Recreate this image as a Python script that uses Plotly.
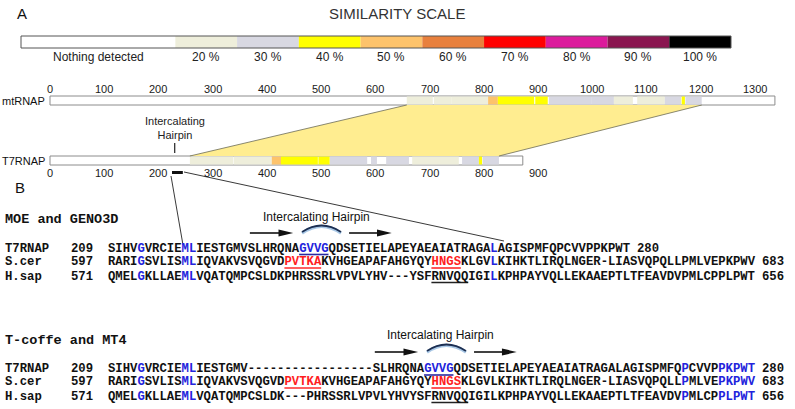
import plotly.graph_objects as go

# ---------------- data ----------------
scale_labels = ["Nothing detected", "20 %", "30 %", "40 %", "50 %", "60 %", "70 %", "80 %", "90 %", "100 %"]
scale_levels = [0, 20, 30, 40, 50, 60, 70, 80, 90, 100]
scale_widths = [2.5, 1, 1, 1, 1, 1, 1, 1, 1, 1]
level_colors = {0: "#ffffff", 20: "#eeeedb", 30: "#d8d8e2", 40: "#ffff00", 50: "#fdc36b",
                60: "#e8803d", 70: "#ff0000", 80: "#dc1b9c", 90: "#8a1650", 100: "#000000"}

mt_length = 1337
t7_length = 872
mt_ticks = [0, 100, 200, 300, 400, 500, 600, 700, 800, 900, 1000, 1100, 1200, 1300]
t7_ticks = [0, 100, 200, 300, 400, 500, 600, 700, 800, 900]

mt_seg_start = [658, 708, 741, 808, 826, 895, 920, 998, 1040, 1083, 1134, 1165, 1172]
mt_seg_end = [706, 741, 808, 826, 893, 918, 998, 1040, 1075, 1134, 1164, 1171, 1202]
mt_seg_level = [20, 20, 20, 50, 40, 40, 30, 30, 20, 20, 30, 40, 30]

t7_seg_start = [258, 339, 409, 426, 495, 516, 592, 620, 668, 760, 791, 798]
t7_seg_end = [338, 409, 426, 494, 516, 585, 603, 662, 754, 791, 797, 828]
t7_seg_level = [20, 20, 50, 40, 40, 30, 30, 30, 20, 30, 40, 30]

band_t7 = [258, 828]
band_mt = [658, 1202]
hairpin_center = 230
hairpin_span = [225, 245]

align_names = ["T7RNAP", "S.cer", "H.sap"]
align_first = [209, 597, 571]
align_last = [280, 683, 656]

moe_rows = ["SIHVGVRCIEMLIESTGMVSLHRQNAGVVGQDSETIELAPEYAEAIATRAGALAGISPMFQPCVVPPKPWT",
            "RARIGSVLISMLIQVAKVSVQGVDPVTKAKVHGEAPAFAHGYQYHNGSKLGVLKIHKTLIRQLNGER-LIASVQPQLLPMLVEPKPWV",
            "QMELGKLLAEMLVQATQMPCSLDKPHRSSRLVPVLYHV---YSFRNVQQIGILKPHPAYVQLLEKAAEPTLTFEAVDVPMLCPPLPWT"]
moe_blue = [[4, 10, 11, 52], [4, 10, 11, 52], [4, 10, 11, 52]]
moe_motifs = [[(26, 29, "blue")], [(24, 28, "red"), (44, 47, "red")], [(44, 48, "black")]]

tcoffee_rows = ["SIHVGVRCIEMLIESTGMV-----------------SLHRQNAGVVGQDSETIELAPEYAEAIATRAGALAGISPMFQPCVVPPKPWT",
                "RARIGSVLISMLIQVAKVSVQGVDPVTKAKVHGEAPAFAHGYQYHNGSKLGVLKIHKTLIRQLNGER-LIASVQPQLLPMLVEPKPWV",
                "QMELGKLLAEMLVQATQMPCSLDK---PHRSSRLVPVLYHVYSFRNVQQIGILKPHPAYVQLLEKAAEPTLTFEAVDVPMLCPPLPWT"]
tcoffee_blue = [[4, 10, 11, 78, 83, 84, 85, 86, 87]] * 3
tcoffee_motifs = [[(43, 46, "blue")], [(24, 28, "red"), (44, 47, "red")], [(44, 48, "black")]]

# ---------------- layout constants ----------------
W, H = 795, 409
PX_PER_RES, X0 = 0.5422, 50
SC_UNIT, SC_X0 = 61.74, 21
COL_W, COL_X0 = 7.35, 108

MT_Y, T7_Y, TRACK_H = 100.5, 160.5, 9
SCALE_Y, SCALE_H = 42, 12

BLUE = "#2323dc"
RED = "#ff1e1e"
MOTIF_LINE = {"blue": "#2a2aa0", "red": "#ff2a2a", "black": "#222222"}
SANS = "Liberation Sans, Arial, sans-serif"
MONO = "Liberation Mono, Courier New, monospace"

fig = go.Figure()

# homology band
t7_top = T7_Y - TRACK_H / 2
mt_bot = MT_Y + TRACK_H / 2
fig.add_trace(go.Scatter(x=[band_t7[0], band_mt[0], band_mt[1], band_t7[1], band_t7[0]],
                         y=[t7_top, mt_bot, mt_bot, t7_top, t7_top], fill="toself",
                         fillcolor="#ffed90", mode="lines", line=dict(width=0), hoverinfo="skip"))
for a, b in [(band_t7[0], band_mt[0]), (band_t7[1], band_mt[1])]:
    fig.add_trace(go.Scatter(x=[a, b], y=[t7_top, mt_bot], mode="lines",
                             line=dict(color="#6b6b55", width=0.8), hoverinfo="skip"))

# tracks
for length, yc in [(mt_length, MT_Y), (t7_length, T7_Y)]:
    fig.add_trace(go.Bar(orientation="h", y=[yc], x=[length], base=[0], width=TRACK_H,
                         marker=dict(color="white", line=dict(color="#8c8c8c", width=1)),
                         hoverinfo="skip"))
for starts, ends, levels, yc in [(mt_seg_start, mt_seg_end, mt_seg_level, MT_Y),
                                 (t7_seg_start, t7_seg_end, t7_seg_level, T7_Y)]:
    fig.add_trace(go.Bar(orientation="h", y=[yc] * len(starts),
                         x=[e - s for s, e in zip(starts, ends)], base=starts,
                         width=TRACK_H - 1,
                         marker=dict(color=[level_colors[l] for l in levels], line=dict(width=0)),
                         hoverinfo="skip"))

# similarity scale
bases = []
acc = 0
for w in scale_widths:
    bases.append(acc)
    acc += w
fig.add_trace(go.Bar(orientation="h", xaxis="x2", y=[SCALE_Y] * len(scale_widths), x=scale_widths,
                     base=bases, width=SCALE_H,
                     marker=dict(color=[level_colors[l] for l in scale_levels], line=dict(width=0)),
                     hoverinfo="skip"))

shapes = []
annotations = []
shapes.append(dict(type="rect", xref="x2", yref="y", x0=0, x1=acc,
                   y0=SCALE_Y - SCALE_H / 2, y1=SCALE_Y + SCALE_H / 2,
                   line=dict(color="#555555", width=1)))
for lab, b, w in zip(scale_labels, bases, scale_widths):
    annotations.append(dict(xref="x2", yref="y", x=b + w / 2, y=57, text=lab, showarrow=False,
                            font=dict(family=SANS, size=12, color="#222")))
annotations.append(dict(xref="paper", yref="y", x=397 / W, y=13, text="SIMILARITY SCALE",
                        showarrow=False, font=dict(family=SANS, size=15, color="#333")))
annotations.append(dict(xref="paper", yref="y", x=15 / W, y=13, text="A", showarrow=False,
                        font=dict(family=SANS, size=15, color="#111")))
annotations.append(dict(xref="paper", yref="y", x=13 / W, y=187, text="B", showarrow=False,
                        font=dict(family=SANS, size=15, color="#111")))

# track ticks
for t in mt_ticks:
    annotations.append(dict(xref="x", yref="y", x=t, y=89, text=str(t), showarrow=False,
                            font=dict(family=SANS, size=11, color="#1a1a1a")))
for t in t7_ticks:
    annotations.append(dict(xref="x", yref="y", x=t, y=173, text=str(t), showarrow=False,
                            font=dict(family=SANS, size=11, color="#1a1a1a")))
annotations.append(dict(xref="paper", yref="y", x=47 / W, y=MT_Y, text="mtRNAP", showarrow=False,
                        xanchor="right", font=dict(family=SANS, size=11, color="#111")))
annotations.append(dict(xref="paper", yref="y", x=47 / W, y=T7_Y, text="T7RNAP", showarrow=False,
                        xanchor="right", font=dict(family=SANS, size=11, color="#111")))

# hairpin marker on T7 track
annotations.append(dict(xref="x", yref="y", x=hairpin_center, y=128, text="Intercalating<br>Hairpin",
                        showarrow=False, font=dict(family=SANS, size=11, color="#222")))
shapes.append(dict(type="line", xref="x", yref="y", x0=hairpin_center, x1=hairpin_center,
                   y0=143, y1=153, line=dict(color="#222", width=1.2)))
shapes.append(dict(type="rect", xref="x", yref="y", x0=hairpin_span[0], x1=hairpin_span[1],
                   y0=171, y1=174, fillcolor="#111", line=dict(width=0)))
# leader lines to the alignment
for (xa, ya, xb, yb) in [(171, 176, 183, 245), (184, 172, 504, 241)]:
    shapes.append(dict(type="line", xref="paper", yref="y", x0=xa / W, y0=ya, x1=xb / W, y1=yb,
                       line=dict(color="#222", width=0.9)))


# ---------------- alignments ----------------
def seq_html(seq, blue_cols, motifs):
    color_of = {c: BLUE for c in blue_cols}
    for s, e, kind in motifs:
        for c in range(s, e + 1):
            if kind == "blue":
                color_of[c] = BLUE
            elif kind == "red":
                color_of[c] = RED
    out = []
    for i, ch in enumerate(seq):
        if i in color_of:
            out.append('<span style="color:%s">%s</span>' % (color_of[i], ch))
        else:
            out.append(ch)
    return "<b>" + "".join(out) + "</b>"


def add_block(title, title_y, rows, blues, motifs, row_ys, hp_label_y, hp_arrow_y, hp_col):
    annotations.append(dict(xref="paper", yref="y", x=5 / W, y=title_y, text="<b>%s</b>" % title,
                            xanchor="left", showarrow=False, borderpad=0, borderwidth=0,
                            font=dict(family=MONO, size=13.5, color="#111")))
    font = dict(family=MONO, size=12.25, color="#111")
    for i in range(3):
        y = row_ys[i]
        seq = rows[i]
        annotations.append(dict(xref="x3", yref="y", x=-14, y=y, text="<b>%s</b>" % align_names[i],
                                xanchor="left", showarrow=False, borderpad=0, borderwidth=0, font=font))
        annotations.append(dict(xref="x3", yref="y", x=-5, y=y, text="<b>%d</b>" % align_first[i],
                                xanchor="left", showarrow=False, borderpad=0, borderwidth=0, font=font))
        annotations.append(dict(xref="x3", yref="y", x=0, y=y, text=seq_html(seq, blues[i], motifs[i]),
                                xanchor="left", showarrow=False, borderpad=0, borderwidth=0, font=font))
        annotations.append(dict(xref="x3", yref="y", x=len(seq) + 1, y=y, text="<b>%d</b>" % align_last[i],
                                xanchor="left", showarrow=False, borderpad=0, borderwidth=0, font=font))
        for s, e, kind in motifs[i]:
            shapes.append(dict(type="line", xref="x3", yref="y", x0=s, x1=e + 1, y0=y + 6, y1=y + 6,
                               line=dict(color=MOTIF_LINE[kind], width=1.6)))
    # hairpin annotation
    annotations.append(dict(xref="x3", yref="y", x=hp_col + 2.3, y=hp_label_y, text="Intercalating Hairpin",
                            showarrow=False, font=dict(family=SANS, size=12, color="#111")))
    for a, b in [(hp_col - 6.7, hp_col - 0.8), (hp_col + 6.8, hp_col + 12.6)]:
        head = 2.0
        shapes.append(dict(type="line", xref="x3", yref="y", x0=a, x1=b - head + 0.2,
                           y0=hp_arrow_y, y1=hp_arrow_y, line=dict(color="#111", width=1.6)))
        shapes.append(dict(type="path", xref="x3", yref="y",
                           path="M %f,%f L %f,%f L %f,%f Z" % (b, hp_arrow_y, b - head, hp_arrow_y - 3.6,
                                                               b - head, hp_arrow_y + 3.6),
                           fillcolor="#111", line=dict(width=0)))
    c0, c1 = hp_col + 0.4, hp_col + 5.7
    cm = (c0 + c1) / 2
    yb = hp_arrow_y - 1
    shapes.append(dict(type="path", xref="x3", yref="y",
                       path="M %f,%f Q %f,%f %f,%f" % (c0, yb + 1.2, cm, yb - 12.5, c1, yb + 1.2),
                       line=dict(color="#a9c8e6", width=3)))
    shapes.append(dict(type="path", xref="x3", yref="y",
                       path="M %f,%f Q %f,%f %f,%f" % (c0, yb, cm, yb - 13, c1, yb),
                       line=dict(color="#1c2f52", width=1.8)))


add_block("MOE and GENO3D", 219, moe_rows, moe_blue, moe_motifs, [248.5, 262, 276.5], 217, 233, 26)
add_block("T-coffe and MT4", 340, tcoffee_rows, tcoffee_blue, tcoffee_motifs, [369, 382, 396.5], 335, 352, 43)

fig.update_layout(
    width=W, height=H, margin=dict(l=0, r=0, t=0, b=0),
    paper_bgcolor="white", plot_bgcolor="white", showlegend=False, barmode="overlay",
    xaxis=dict(range=[-X0 / PX_PER_RES, (W - X0) / PX_PER_RES], visible=False, fixedrange=True),
    xaxis2=dict(range=[-SC_X0 / SC_UNIT, (W - SC_X0) / SC_UNIT], overlaying="x", visible=False),
    xaxis3=dict(range=[-COL_X0 / COL_W, (W - COL_X0) / COL_W], overlaying="x", visible=False),
    yaxis=dict(range=[H, 0], visible=False, fixedrange=True),
    shapes=shapes, annotations=annotations,
)

fig.write_html("out.html", config={"displayModeBar": False},
               post_script="document.body.style.margin='0';document.body.style.overflow='hidden';")
